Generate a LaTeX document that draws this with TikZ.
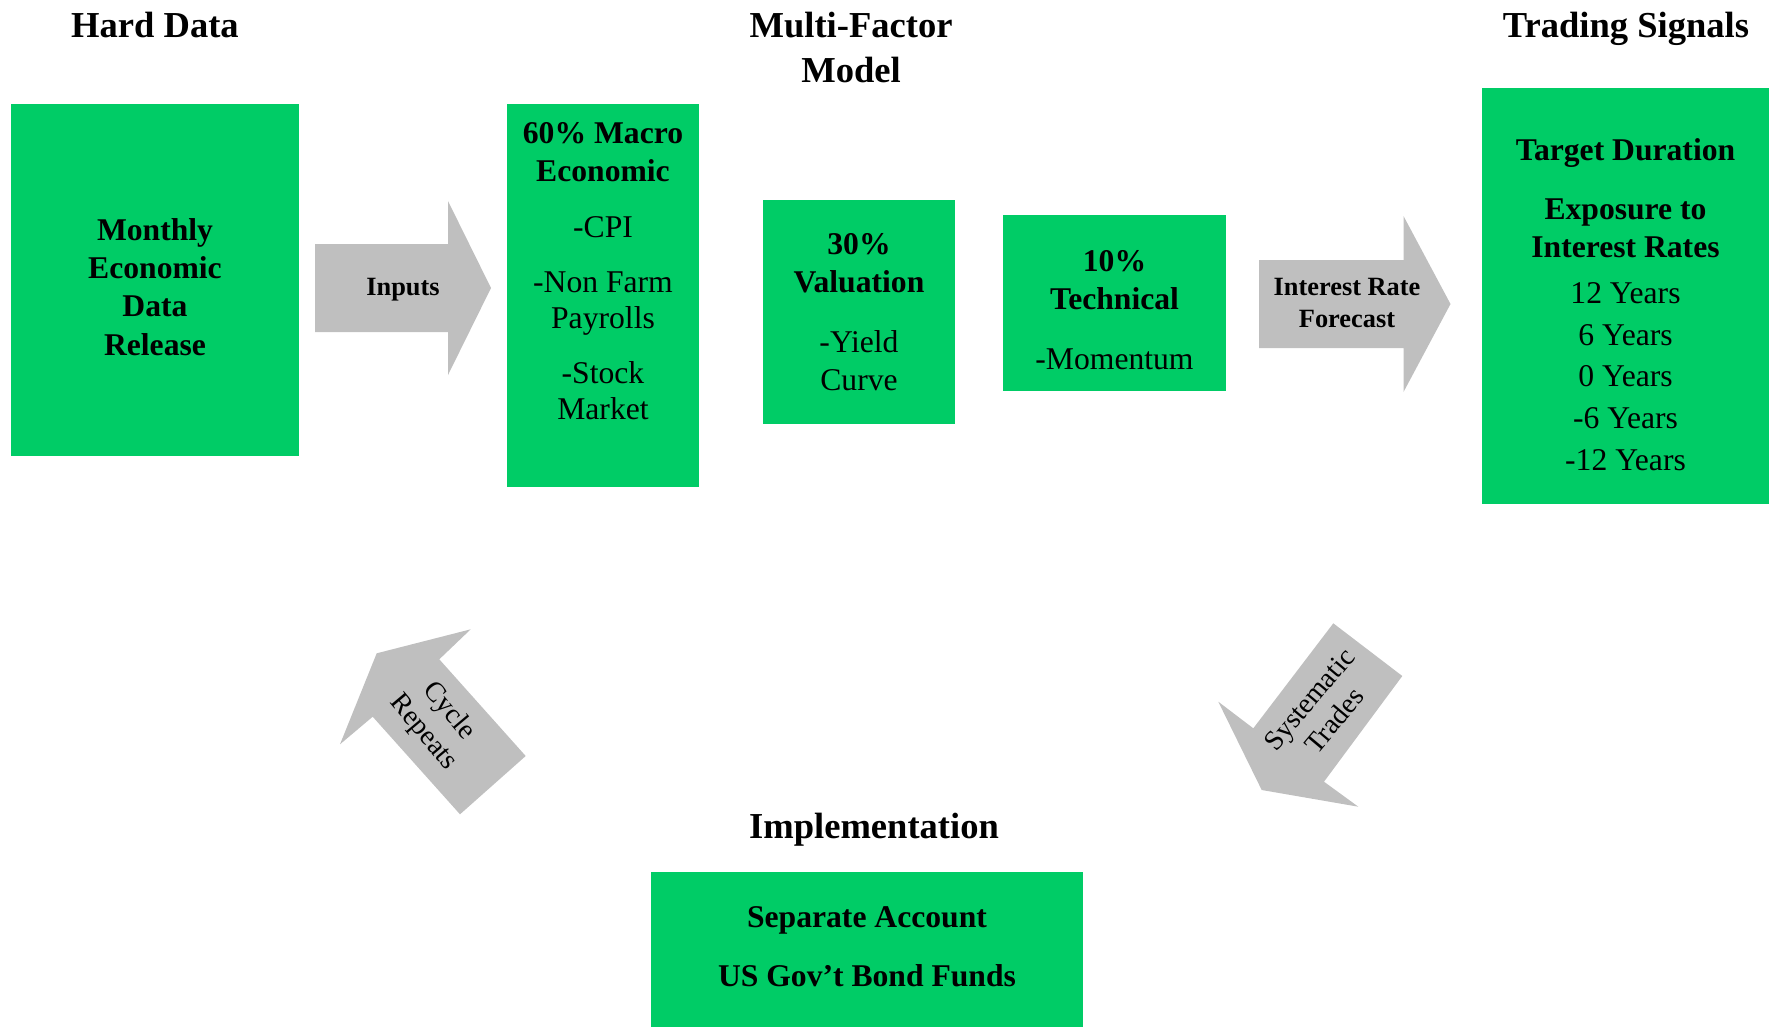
\documentclass[tikz,border=0pt]{standalone}
\usepackage{fontspec}
\setmainfont{Liberation Serif}
\definecolor{boxgreen}{RGB}{0,204,102}
\definecolor{arrowgray}{RGB}{191,191,191}
\begin{document}
\begin{tikzpicture}
            \tikzstyle{box}=[rectangle, fill=boxgreen, inner sep=0pt]
            \tikzstyle{boxtext}=[align=center, inner sep=0pt, font=\fontsize{9}{10.9}\selectfont]
            \tikzstyle{heading}=[align=center, inner sep=0pt, font=\bfseries\fontsize{10.4}{12.8}\selectfont]
            \tikzstyle{flow}=[fill=arrowgray]
            \tikzstyle{flowtext}=[align=center, inner sep=0pt, font=\bfseries\fontsize{7.5}{9.1}\selectfont]
            \tikzstyle{turntext}=[align=center, inner sep=0pt, font=\fontsize{8}{9.4}\selectfont]
            \useasboundingbox (0,0) rectangle (17.69,-10.27);
            % headings
            \node[heading] (hard) at (1.55,-0.25) {Hard Data};
            \node[heading] (multi) at (8.51,-0.475) {Multi-Factor\\Model};
            \node[heading] (signals) at (16.26,-0.285) {Trading Signals};
            \node[heading] (impl) at (8.74,-8.295) {Implementation};
            % boxes
            \node[box, minimum width=2.88cm, minimum height=3.52cm] (monthly) at (1.55,-2.80) {};
            \node[boxtext, font=\bfseries\fontsize{9}{10.9}\selectfont] (monthlytxt) at ([yshift=-0.07cm]monthly.center) {Monthly\\Economic\\Data\\Release};
            \node[box, minimum width=1.92cm, minimum height=3.83cm] (macro) at (6.03,-2.955) {};
            \node[boxtext, anchor=north] (macrotxt) at ([yshift=-0.18cm]macro.north) {\textbf{60\% Macro}\\\textbf{Economic}\\[5.2pt]-CPI\\[4.6pt]-Non Farm\\[-0.7pt]Payrolls\\[4.8pt]-Stock\\[-0.7pt]Market};
            \node[box, minimum width=1.92cm, minimum height=2.24cm] (valuation) at (8.59,-3.12) {};
            \node[boxtext] (valuationtxt) at (valuation.center) {\textbf{30\%}\\\textbf{Valuation}\\[6pt]-Yield\\Curve};
            \node[box, minimum width=2.23cm, minimum height=1.76cm] (technical) at (11.145,-3.03) {};
            \node[boxtext] (technicaltxt) at ([yshift=-0.07cm]technical.center) {\textbf{10\%}\\\textbf{Technical}\\[6pt]-Momentum};
            \node[box, minimum width=2.87cm, minimum height=4.16cm] (trading) at (16.255,-2.96) {};
            \node[boxtext] (tradingtxt) at ([yshift=-0.085cm]trading.center) {\textbf{Target Duration}\\[6pt]\textbf{Exposure to}\\\textbf{Interest Rates}\\[2pt]12 Years\\[1pt]6 Years\\[1pt]0 Years\\[1pt]-6 Years\\[1pt]-12 Years};
            \node[box, minimum width=4.32cm, minimum height=1.55cm] (account) at (8.67,-9.495) {};
            \node[boxtext, font=\bfseries\fontsize{9}{10.9}\selectfont] (accounttxt) at ([yshift=0.03cm]account.center) {Separate Account\\[6pt]US Gov’t Bond Funds};
            % block arrows
            \fill[flow] (3.15,-2.44) -- (4.48,-2.44) -- (4.48,-2.01) -- (4.91,-2.88) -- (4.48,-3.75) -- (4.48,-3.32) -- (3.15,-3.32) -- cycle;
            \node[flowtext] (inputs) at (4.03,-2.90) {Inputs};
            \fill[flow] (12.59,-2.60) -- (14.035,-2.60) -- (14.035,-2.16) -- (14.505,-3.04) -- (14.035,-3.92) -- (14.035,-3.48) -- (12.59,-3.48) -- cycle;
            \node[flowtext] (forecast) at (13.47,-3.03) {Interest Rate\\Forecast};
            \fill[flow] (13.333,-6.233) -- (14.023,-6.76) -- (13.24,-7.817) -- (13.583,-8.067) -- (12.617,-7.90) -- (12.183,-7.017) -- (12.533,-7.283) -- cycle;
            \node[turntext, rotate=50] (trades) at (13.22,-7.10) {Systematic\\Trades};
            \fill[flow] (3.767,-6.533) -- (4.707,-6.293) -- (4.393,-6.593) -- (5.257,-7.56) -- (4.60,-8.143) -- (3.727,-7.167) -- (3.40,-7.443) -- cycle;
            \node[turntext, rotate=-50] (repeats) at (4.36,-7.22) {Cycle\\Repeats};
\end{tikzpicture}
\end{document}
